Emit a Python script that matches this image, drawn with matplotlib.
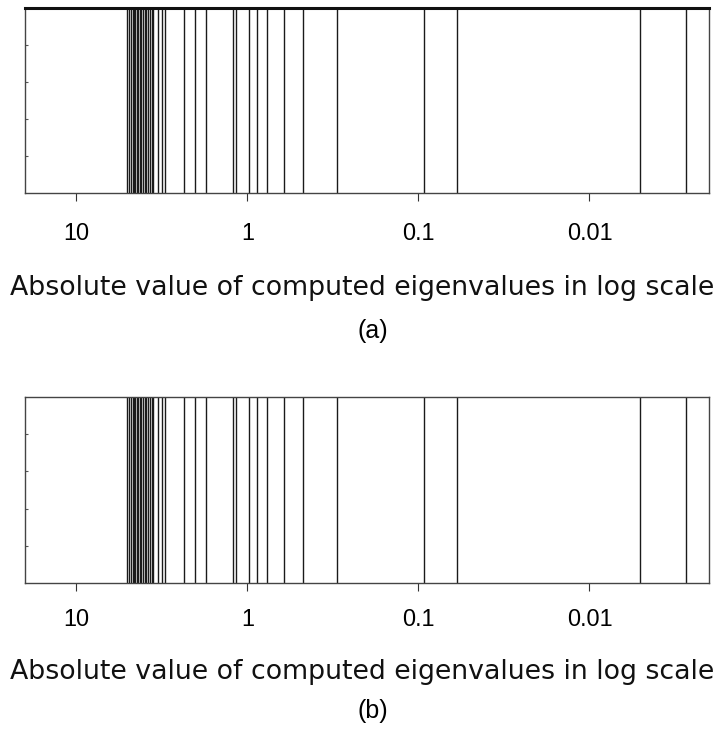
import matplotlib
matplotlib.use('Agg')
import matplotlib.pyplot as plt

# |eigenvalue|, panel (a) and (b)
eig_a = [5.02, 4.95, 4.82, 4.69, 4.60, 4.51, 4.42, 4.33, 4.24, 4.16, 4.07,
         3.99, 3.89, 3.81, 3.71, 3.63, 3.54, 3.33, 3.15, 3.05,
         2.35, 2.02, 1.74, 1.21, 1.16, 0.981, 0.878, 0.772, 0.610, 0.472,
         0.301, 0.0930, 0.0596, 0.00505, 0.00273]
eig_b = [5.02, 4.95, 4.82, 4.69, 4.60, 4.51, 4.42, 4.33, 4.24, 4.16, 4.07,
         3.99, 3.89, 3.81, 3.71, 3.63, 3.54, 3.33, 3.15, 3.05,
         2.35, 2.02, 1.74, 1.21, 1.16, 0.981, 0.878, 0.772, 0.610, 0.472,
         0.301, 0.0930, 0.0596, 0.00505, 0.00273]
xticks = [10, 1, 0.1, 0.01]
xticklabels = ['10', '1', '0.1', '0.01']
xlabel = 'Absolute value of computed eigenvalues in log scale'
captions = ['(a)', '(b)']

W, H = 721, 734
plt.rcParams['font.family'] = ['Liberation Sans', 'DejaVu Sans']
fig = plt.figure(figsize=(W / 100, H / 100), dpi=100)


def px(x0, y0, x1, y1):
    return [x0 / W, 1 - y1 / H, (x1 - x0) / W, (y1 - y0) / H]


# axes box top/bottom, then baselines of tick labels, axis label, caption (pixels)
panels = [(eig_a, 8, 193, 239.5, 295, 338), (eig_b, 397, 583, 626, 679, 718)]
for i, (eig, top, bot, ty, ly, cy) in enumerate(panels):
    ax = fig.add_axes(px(24.8, top, 709, bot))
    ax.vlines(eig, 0, 1, colors='#1a1a1a', linewidth=1.0)
    ax.set_xscale('log')
    ax.set_xlim(20, 0.002)
    ax.set_ylim(0, 1)
    ax.set_xticks(xticks)
    ax.set_xticklabels([])
    ax.minorticks_off()
    ax.tick_params(axis='x', direction='out', length=5.8, width=0.8, color='#333333')
    ax.set_yticks([0.2, 0.4, 0.6, 0.8])
    ax.set_yticklabels([])
    ax.tick_params(axis='y', direction='in', length=2.5, width=0.8, color='#555555')
    for s in ax.spines.values():
        s.set_color('#444444')
        s.set_linewidth(1.0)
    if i == 0:
        ax.spines['top'].set_color('#111111')
        ax.spines['top'].set_linewidth(2.2)
    for v, lab in zip(xticks, xticklabels):
        xd = ax.transData.transform((v, 0))[0]
        fig.text(xd / W, 1 - ty / H, lab, ha='center', va='baseline', fontsize=16.8)
    fig.text(362 / W, 1 - ly / H, xlabel, ha='center', va='baseline', fontsize=19.3,
             family='DejaVu Sans', color='#111111')
    fig.text(372.5 / W, 1 - cy / H, captions[i], ha='center', va='baseline', fontsize=18)

fig.savefig('out.png', dpi=100)
